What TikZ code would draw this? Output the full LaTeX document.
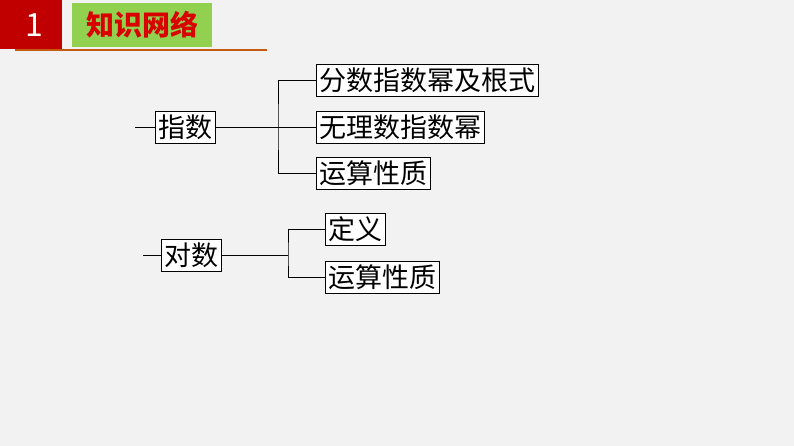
\documentclass[tikz,border=0pt]{standalone}
\usepackage{fontspec}
\setmainfont{Noto Sans CJK SC}
\usetikzlibrary{positioning}
\definecolor{hdrred}{HTML}{C00000}
\definecolor{hdrgreen}{HTML}{92D050}
\definecolor{hdrline}{HTML}{C55A11}
\definecolor{bggray}{HTML}{F2F2F2}
\tikzset{
  item/.style={draw, thick, fill=white, inner xsep=3pt, inner ysep=1pt, minimum height=32pt, font=\fontsize{27}{27}\selectfont, anchor=west},
  link/.style={thick}
}
\begin{document}
\begin{tikzpicture}[x=1pt,y=-1pt]
    \fill[bggray] (0,0) rectangle (794,446);
    \useasboundingbox (0,0) rectangle (794,446);
    % header
    \draw[hdrline, line width=2.5pt] (15,50) -- (267,50);
    \fill[hdrred] (0,0) rectangle (62,49);
    \node[white, font=\fontsize{32}{32}\selectfont] (num) at (34,25) {1};
    \fill[hdrgreen] (72,3) rectangle (212,47);
    \node[red!85!black, font=\fontsize{28}{28}\selectfont\bfseries] (title) at (142,25) {知识网络};

    % exponent branch
    \coordinate (z1) at (135,127);
    \node[item] (zhishu) at (155,127) {指数};
    \coordinate (j1) at (278,127);
    \node[item] (fen) at (316,80) {分数指数幂及根式};
    \node[item] (wu) at (316,127) {无理数指数幂};
    \node[item] (yun1) at (316,173) {运算性质};
    \draw[link] (z1) -- (zhishu.west);
    \draw[link] (zhishu.east) -- (j1);
    \draw[link] (fen.west) -| (j1) |- (yun1.west);
    \draw[link] (j1) -- (wu.west);

    % logarithm branch
    \coordinate (z2) at (143,255);
    \node[item] (duishu) at (161,255) {对数};
    \coordinate (j2) at (288,255);
    \node[item] (ding) at (325,229) {定义};
    \node[item] (yun2) at (325,277) {运算性质};
    \draw[link] (z2) -- (duishu.west);
    \draw[link] (duishu.east) -- (j2);
    \draw[link] (ding.west) -| (j2) |- (yun2.west);
\end{tikzpicture}
\end{document}
